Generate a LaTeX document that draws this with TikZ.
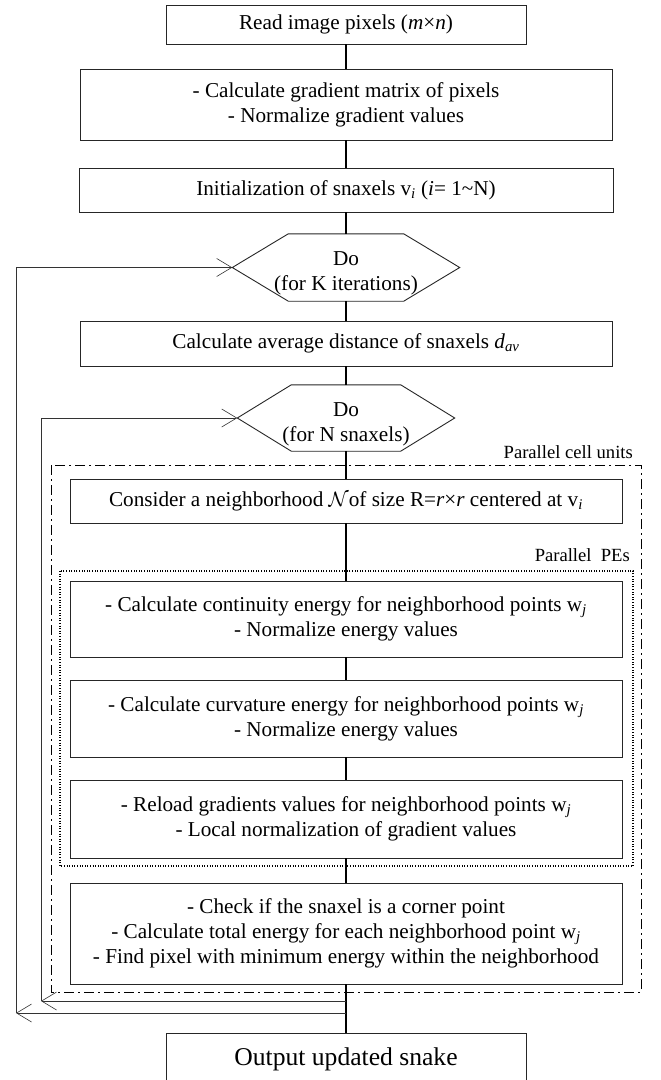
\documentclass[tikz,border=0pt]{standalone}
\usepackage{fontspec}
\setmainfont{Liberation Serif}
\usetikzlibrary{arrows.meta, calc}
\newcommand\lowidx[1]{\textsubscript{\itshape #1}}

\begin{document}
\begin{tikzpicture}[x=1pt, y=-1pt]
  \tikzstyle{stepbox}=[draw=black!85, line width=0.9pt, inner sep=0pt, align=center, font=\fontsize{21.2}{25}\selectfont]
  \tikzstyle{hexa}=[inner sep=0pt]
  \tikzstyle{hexatext}=[inner sep=0pt, align=center, font=\fontsize{21.2}{25}\selectfont]
  \tikzstyle{tag}=[anchor=east, inner sep=0pt, font=\fontsize{18.6}{22}\selectfont]
  \tikzstyle{link}=[line width=1.7pt]
  \tikzstyle{loop}=[line width=0.6pt, black!80, -{Straight Barb[length=15pt, width=18pt]}]
  \useasboundingbox (0,0) rectangle (661,1080);
  % frames of the parallel parts
  \draw[line width=0.9pt, dash pattern=on 10pt off 4pt on 2pt off 4pt] (51,465) rectangle (641,992);
  \draw[line width=1.2pt, dash pattern=on 1pt off 1.6pt] (60,571) rectangle (633,866);
  \node[tag] (cellTag) at (633,452) {Parallel cell units};
  \node[tag] (peTag) at (630,555) {Parallel\ \ PEs};
  % steps
  \node[stepbox, minimum width=360, minimum height=39] (read) at (346,24.5) {Read image pixels (\textit{m}×\textit{n})};
  \node[stepbox, minimum width=532, minimum height=71] (grad) at (346,104.5) {- Calculate gradient matrix of pixels\\- Normalize gradient values};
  \node[stepbox, minimum width=534, minimum height=44] (init) at (346,190) {Initialization of snaxels v\lowidx{i} (\textit{i}= 1\textasciitilde N)};
  \node[hexa, minimum width=227, minimum height=67] (doK) at (346,267.5) {};
  \node[hexatext] (doKtext) at (346,273) {Do\\(for K iterations)};
  \node[stepbox, minimum width=532, minimum height=45] (avg) at (346,343.5) {Calculate average distance of snaxels \textit{d}\lowidx{av}};
  \node[hexa, minimum width=217, minimum height=66] (doN) at (346,418) {};
  \node[hexatext] (doNtext) at (346,424) {Do\\(for N snaxels)};
  \node[stepbox, minimum width=552, minimum height=44] (nbr) at (346,501) {Consider a neighborhood $\mathcal{N}$of size R=\textit{r}×\textit{r} centered at v\lowidx{i}};
  \node[stepbox, minimum width=552, minimum height=76] (cont) at (346,619) {- Calculate continuity energy for neighborhood points w\lowidx{j}\\- Normalize energy values};
  \node[stepbox, minimum width=552, minimum height=77] (curv) at (346,718.5) {- Calculate curvature energy for neighborhood points w\lowidx{j}\\- Normalize energy values};
  \node[stepbox, minimum width=552, minimum height=78] (grd) at (346,819) {- Reload gradients values for neighborhood points w\lowidx{j}\\- Local normalization of gradient values};
  \node[stepbox, minimum width=552, minimum height=101] (total) at (346,933.5) {- Check if the snaxel is a corner point\\- Calculate total energy for each neighborhood point w\lowidx{j}\\- Find pixel with minimum energy within the neighborhood};
  \node[stepbox, minimum width=360, minimum height=52, font=\fontsize{25.6}{30}\selectfont] (out) at (346,1059) {Output updated snake};
  % hexagon outlines
  \draw[draw=black!85, line width=0.9pt] (doK.west) -- ($(doK.north west)+(56,0)$) -- ($(doK.north east)+(-56,0)$) -- (doK.east) -- ($(doK.south east)+(-56,0)$) -- ($(doK.south west)+(56,0)$) -- cycle;
  \draw[draw=black!85, line width=0.9pt] (doN.west) -- ($(doN.north west)+(54,0)$) -- ($(doN.north east)+(-54,0)$) -- (doN.east) -- ($(doN.south east)+(-54,0)$) -- ($(doN.south west)+(54,0)$) -- cycle;
  % main flow
  \draw[link] (read) -- (grad);
  \draw[link] (grad) -- (init);
  \draw[link] (init) -- (doK);
  \draw[link] (doK) -- (avg);
  \draw[link] (avg) -- (doN);
  \draw[link] (doN) -- (nbr);
  \draw[link] (nbr) -- (cont);
  \draw[link] (cont) -- (curv);
  \draw[link] (curv) -- (grd);
  \draw[link] (grd) -- (total);
  \draw[link] (total) -- (out);
  % loops back
  \coordinate (jN) at (346,1001);
  \coordinate (jK) at (346,1013);
  \coordinate (cN) at (41,1001);
  \coordinate (cK) at (16,1013);
  \draw[loop] (jN) -- (cN);
  \draw[loop] (cN) |- (doN.west);
  \draw[loop] (jK) -- (cK);
  \draw[loop] (cK) |- (doK.west);
\end{tikzpicture}
\end{document}
